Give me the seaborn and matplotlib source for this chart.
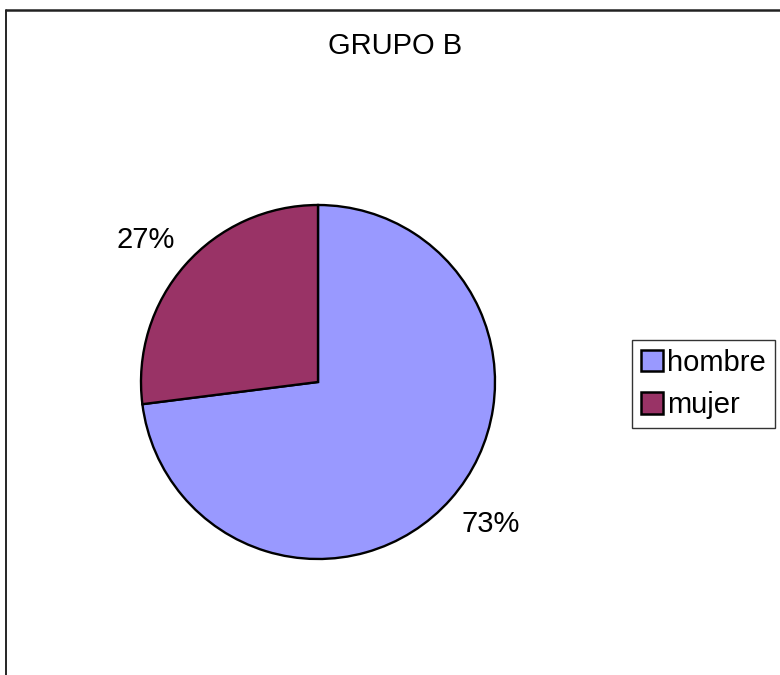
import matplotlib
matplotlib.use("Agg")
import numpy as np
import matplotlib.pyplot as plt
import seaborn as sns
from matplotlib.patches import Patch
from matplotlib.lines import Line2D

sns.set_theme(style="white")
plt.rcParams['font.family'] = ['Liberation Sans', 'DejaVu Sans']
plt.rcParams['text.color'] = 'black'

# Data
categories = ["hombre", "mujer"]
values = [73, 27]
colors = ["#9999FF", "#993366"]
title = "GRUPO B"

W, H = 780, 675
FS = 21
fig = plt.figure(figsize=(W / 100, H / 100), dpi=100)
fig.patch.set_facecolor("white")

# Pie axes: centre (318, 382) px, radius 177 px
cx, cy, r = 318, 382, 177
ax = fig.add_axes([(cx - r) / W, (H - cy - r) / H, 2 * r / W, 2 * r / H])
wedges, _ = ax.pie(
    values,
    colors=colors,
    startangle=90,
    counterclock=False,
    wedgeprops=dict(edgecolor="black", linewidth=1.7),
)
ax.set_xlim(-1, 1)
ax.set_ylim(-1, 1)
ax.set_aspect("equal")
ax.axis("off")

# Percentage labels placed just outside each wedge
for w, v in zip(wedges, values):
    mid = np.deg2rad((w.theta1 + w.theta2) / 2 + 2)
    ax.text(1.26 * np.cos(mid), 1.26 * np.sin(mid), f"{v}%",
            ha="center", va="center", fontsize=FS, color="black")

fig.text(395 / W, 1 - 46.5 / H, title, ha="center", va="center", fontsize=FS, color="black")

handles = [Patch(facecolor=c, edgecolor="black", linewidth=1.8) for c in colors]
leg = fig.legend(
    handles, categories,
    loc="upper left", bbox_to_anchor=(632 / W, 1 - 340 / H),
    fontsize=FS, frameon=True, fancybox=False, shadow=False,
    handlelength=0.75, handleheight=0.75, handletextpad=0.15,
    borderpad=0.3, labelspacing=0.5, borderaxespad=0, labelcolor="black",
)
leg.get_frame().set_edgecolor("black")
leg.get_frame().set_linewidth(1.0)

# Chart area border (left and top edges)
fig.add_artist(Line2D([6 / W, 6 / W], [0, 1 - 10 / H], transform=fig.transFigure, color="black", lw=1.2))
fig.add_artist(Line2D([6 / W, 1], [1 - 10 / H, 1 - 10 / H], transform=fig.transFigure, color="#222222", lw=1.8))

fig.savefig("out.png", dpi=100, facecolor="white")
